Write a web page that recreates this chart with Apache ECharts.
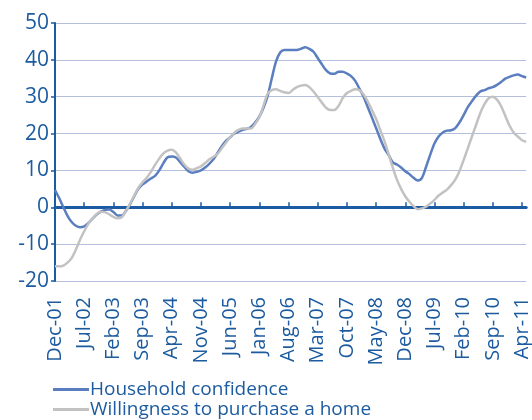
<!DOCTYPE html>
<html style="height: 100%">
<head>
    <meta charset="utf-8">
    <script src="https://cdn.jsdelivr.net/npm/echarts@6/dist/echarts.min.js"></script>
    <title>Household confidence</title>
</head>
<body style="height: 100%; margin: 0">
<div id="container" style="width: 532px; height: 420px"></div>
<script type="text/javascript">
// monthly, Dec-01 .. May-11
let monthNames = ['Jan','Feb','Mar','Apr','May','Jun','Jul','Aug','Sep','Oct','Nov','Dec']
let months = []
for (let i = 0; i < 114; i++) {
    let k = 11 + i
    let yr = 1 + Math.floor(k / 12)
    months.push(monthNames[k % 12] + '-' + String(yr).padStart(2, '0'))
}

let confidence = [
    4.7, 2.5, 0, -2.3, -4.0, -5.0, -5.4, -5.2, -4.3, -3.1, -2.0, -1.2,
    -0.7, -0.6, -1.3, -2.2, -2.2, -1.0, 0.8, 3.0, 5.0, 6.2, 7.0, 7.8,
    8.5, 10.0, 12.0, 13.6, 13.8, 13.5, 12.3, 11.0, 9.8, 9.4, 9.6, 10.0,
    10.8, 11.8, 13.0, 14.8, 16.6, 18.0, 19.0, 20.0, 20.5, 21.0, 21.3, 21.8,
    23.0, 24.6, 27.0, 30.2, 35.0, 39.5, 42.0, 42.7, 42.7, 42.7, 42.7, 43.0,
    43.4, 43.0, 42.2, 40.5, 38.8, 37.2, 36.3, 36.2, 36.8, 36.8, 36.3, 35.6,
    34.3, 32.2, 30.0, 27.2, 24.4, 21.5, 18.6, 16.0, 14.2, 12.2, 11.6, 10.8,
    9.8, 9.0, 8.0, 7.3, 8.0, 11.0, 14.3, 17.3, 19.2, 20.3, 20.8, 20.9,
    21.5, 23.0, 25.0, 27.2, 28.8, 30.3, 31.4, 31.8, 32.3, 32.6, 33.2, 34.0,
    34.9, 35.4, 35.8, 36.0, 35.6, 35.2
]

let willingness = [
    -16.0, -16.0, -15.8, -15.0, -13.8, -11.5, -8.8, -6.5, -4.5, -3.0, -1.8, -1.2,
    -1.3, -1.9, -2.6, -3.0, -2.7, -1.0, 1.0, 3.2, 5.3, 6.8, 8.0, 9.6,
    11.5, 13.2, 14.6, 15.4, 15.6, 14.9, 13.3, 11.6, 10.5, 10.2, 10.6, 11.1,
    12.0, 13.0, 13.7, 14.5, 16.0, 17.5, 19.0, 20.2, 21.0, 21.4, 21.4, 21.4,
    22.6, 24.4, 27.6, 30.8, 31.8, 32.0, 31.6, 31.2, 31.0, 31.8, 32.6, 33.0,
    33.2, 32.6, 31.4, 29.9, 28.4, 27.0, 26.4, 26.4, 27.5, 29.6, 31.0, 31.6,
    32.0, 31.8, 30.6, 28.7, 26.4, 24.0, 21.0, 18.0, 14.5, 10.8, 7.5, 5.0,
    3.0, 1.5, 0.3, -0.5, -0.3, 0.2, 1.0, 2.0, 3.2, 4.0, 4.8, 6.0,
    7.5, 9.8, 12.8, 16.0, 19.2, 22.4, 25.6, 28.0, 29.6, 30.0, 29.2, 27.4,
    24.8, 22.2, 20.3, 19.2, 18.2, 17.8
]

let textBlue = '#1c5b9f'
let font = 'Open Sans'

function legendRow(name, top) {
    return {
        left: 48, top: top,
        itemWidth: 36, itemHeight: 3, itemGap: 0,
        icon: 'rect',
        textStyle: { color: textBlue, fontFamily: font, fontSize: 19, padding: [0, 0, 0, -4] },
        data: [name]
    }
}

let chart = echarts.init(document.getElementById('container'))
chart.setOption({
    animation: false,
    grid: { left: 55, right: 4, top: 23, bottom: 139 },
    legend: [
        legendRow('Household confidence', 375),
        legendRow('Willingness to purchase a home', 395)
    ],
    xAxis: [
        {
            type: 'category',
            data: months,
            boundaryGap: false,
            axisLine: { onZero: false, show: false },
            axisTick: { show: false },
            axisLabel: {
                interval: 6, rotate: 90, margin: 16,
                color: textBlue, fontFamily: font, fontSize: 20
            }
        },
        {
            type: 'category',
            data: months,
            boundaryGap: false,
            axisLine: { onZero: true, lineStyle: { color: '#1a5ba3', width: 3 } },
            axisTick: { interval: 6, length: 5, lineStyle: { color: '#1a5ba3', width: 1.5 } },
            axisLabel: { show: false }
        }
    ],
    yAxis: {
        type: 'value',
        min: -20, max: 50, interval: 10,
        axisLine: { show: true, lineStyle: { color: '#1a5ba3', width: 2 } },
        axisTick: { show: true, length: 4, lineStyle: { color: '#1a5ba3', width: 1.5 } },
        axisLabel: { color: textBlue, fontFamily: font, fontSize: 21, margin: 6 },
        splitLine: { lineStyle: { color: '#b3bfdc', width: 1 } }
    },
    series: [
        {
            name: 'Household confidence',
            type: 'line',
            data: confidence,
            showSymbol: false,
            smooth: 0.3,
            lineStyle: { color: '#5a7ebf', width: 2.5 },
            itemStyle: { color: '#5a7ebf' }
        },
        {
            name: 'Willingness to purchase a home',
            type: 'line',
            data: willingness,
            showSymbol: false,
            smooth: 0.3,
            lineStyle: { color: '#c2c2c2', width: 2.5 },
            itemStyle: { color: '#c2c2c2' }
        }
    ]
})
</script>
</body>
</html>
